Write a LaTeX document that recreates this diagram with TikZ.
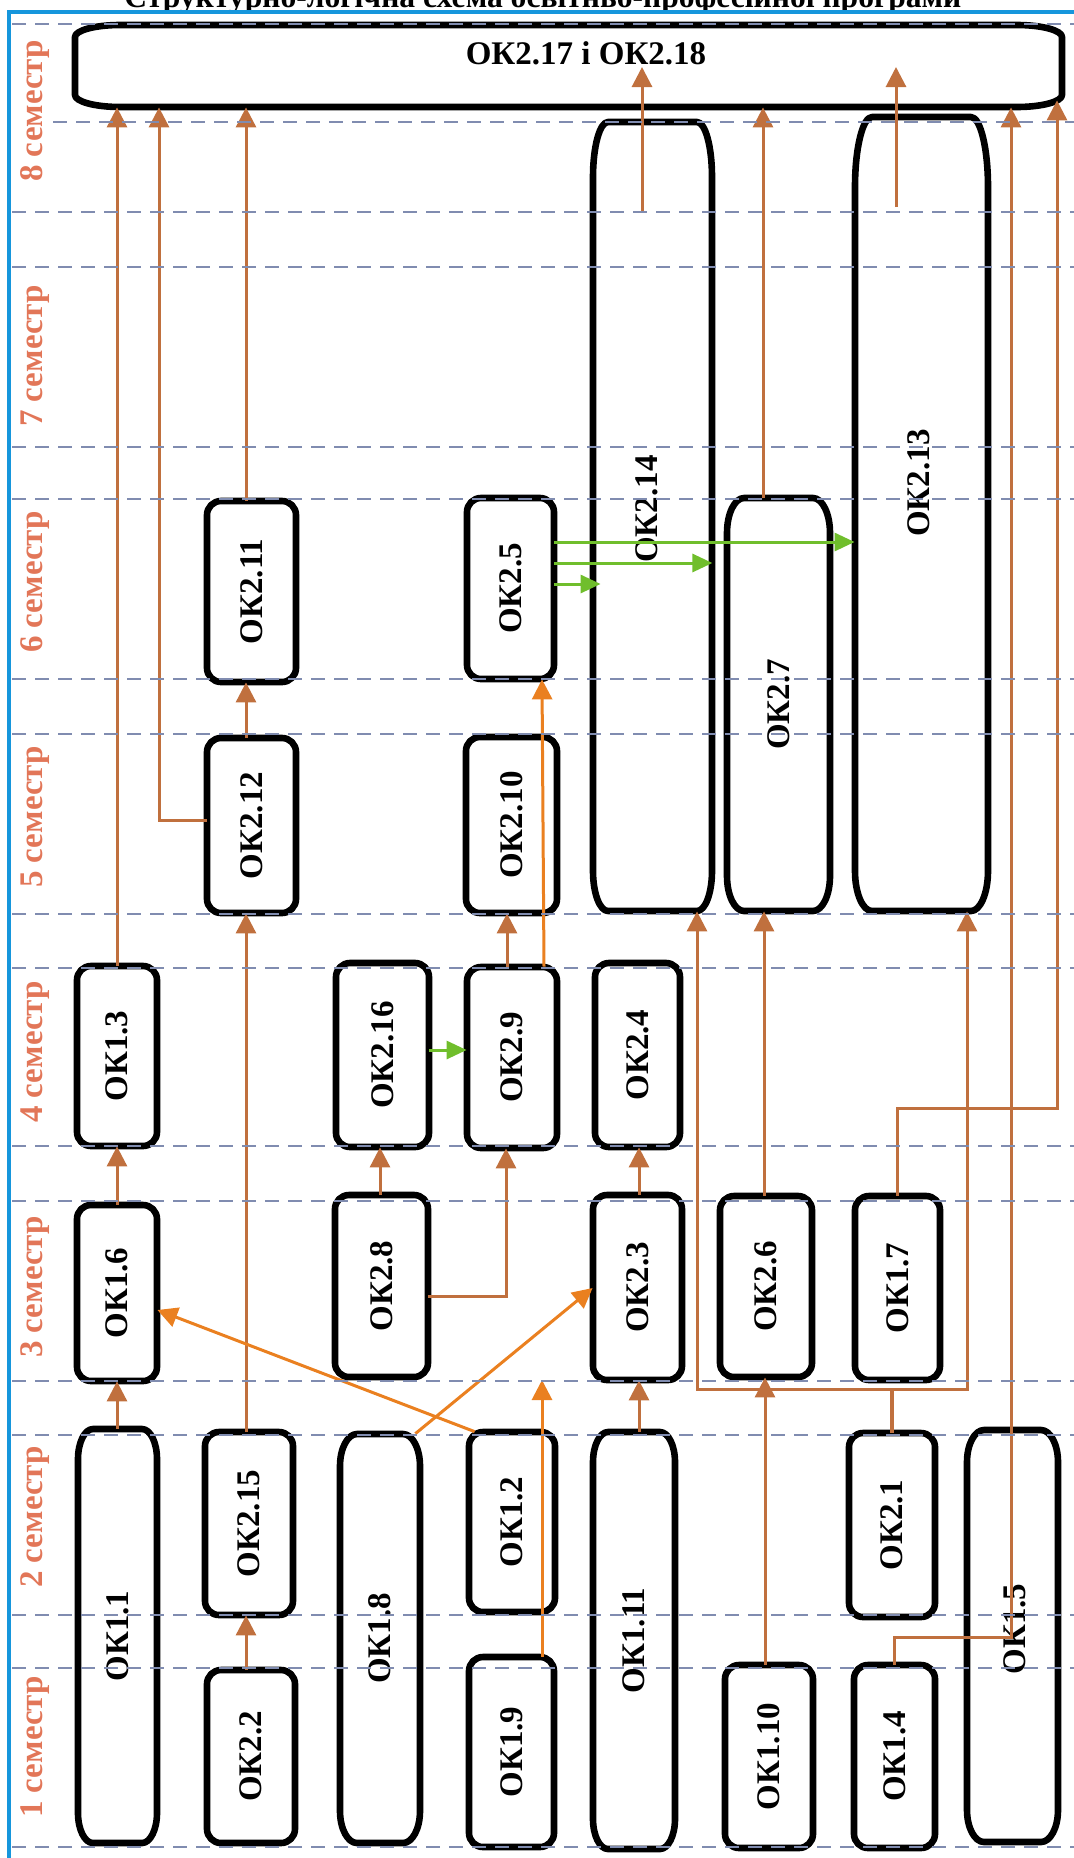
\documentclass[tikz,border=0pt]{standalone}
\usepackage{fontspec}
\usepackage{graphicx}
\setmainfont{Liberation Serif}
\usetikzlibrary{arrows.meta,fit}
\definecolor{semc}{RGB}{226,118,88}
\definecolor{brn}{RGB}{192,112,62}
\definecolor{org}{RGB}{234,128,32}
\definecolor{grn}{RGB}{112,190,44}
\definecolor{dsh}{RGB}{128,140,176}
\definecolor{blu}{RGB}{22,150,220}
\tikzset{
  boxline/.style={draw=black, line width=3.3pt, line join=round},
  lbl/.style={font=\fontsize{16.5}{18}\selectfont\bfseries, rotate=90, inner sep=0pt},
  hlbl/.style={font=\fontsize{16.5}{18}\selectfont\bfseries, inner sep=0pt},
  semlbl/.style={text=semc, font=\fontsize{16.5}{18}\selectfont\bfseries, rotate=90, inner sep=0pt},
  conn/.style={draw=brn, line width=1.5pt},
  arr/.style={conn, -{Triangle[length=10pt,width=10pt]}},
  oarr/.style={draw=org, line width=1.5pt, -{Triangle[length=10pt,width=10pt]}},
  garr/.style={draw=grn, line width=1.5pt, -{Triangle[length=10pt,width=9pt]}},
  dline/.style={draw=dsh, line width=1pt, dash pattern=on 7pt off 4.5pt},
}
% #1 name, #2 x1, #3 y1, #4 x2, #5 y2, #6 rx, #7 ry top, #8 ry bottom, #9 label
\newcommand\okbox[9]{%
 \draw[boxline] ({#2+#6},#3) -- ({#4-#6},#3)
   .. controls ({#4-0.4477*#6},#3) and (#4,{#3+0.4477*#7}) .. (#4,{#3+#7})
   -- (#4,{#5-#8})
   .. controls (#4,{#5-0.4477*#8}) and ({#4-0.4477*#6},#5) .. ({#4-#6},#5)
   -- ({#2+#6},#5)
   .. controls ({#2+0.4477*#6},#5) and (#2,{#5-0.4477*#8}) .. (#2,{#5-#8})
   -- (#2,{#3+#7})
   .. controls (#2,{#3+0.4477*#7}) and ({#2+0.4477*#6},#3) .. ({#2+#6},#3) -- cycle;
 \node[fit={(#2,#3)(#4,#5)},inner sep=0pt] (#1) {};
 \node[lbl] (#1-t) at (#1.center) {#9};
}
\begin{document}
\begin{tikzpicture}[x=0.5pt,y=-0.5pt]
\useasboundingbox (0,0) rectangle (1074,1858);

% title (partly cut off at the top)
\node[anchor=base, inner sep=0pt] (title) at (543,7)
  {\resizebox{418.5pt}{!}{\bfseries Структурно-логічна схема освітньо-професійної програми}};

% semester labels
\node[semlbl] (sem8) at (35,111) {8 семестр};
\node[semlbl] (sem7) at (35,356) {7 семестр};
\node[semlbl] (sem6) at (35,582) {6 семестр};
\node[semlbl] (sem5) at (35,817) {5 семестр};
\node[semlbl] (sem4) at (35,1052) {4 семестр};
\node[semlbl] (sem3) at (35,1287) {3 семестр};
\node[semlbl] (sem2) at (35,1517) {2 семестр};
\node[semlbl] (sem1) at (35,1747) {1 семестр};

% boxes
\okbox{ok217}{75}{25}{1062}{107}{45}{12}{12}{}
\node[hlbl] (ok217-l) at (586,53) {ОК2.17 і ОК2.18};

\okbox{ok11}{78}{1429}{157}{1843}{15}{30}{30}{ОК1.1}
\okbox{ok16}{77}{1205}{157}{1381}{14}{14}{14}{ОК1.6}
\okbox{ok13}{77}{966}{157}{1146}{14}{14}{14}{ОК1.3}

\okbox{ok22}{207}{1670}{295}{1843}{14}{14}{14}{ОК2.2}
\okbox{ok215}{205}{1432}{293}{1615}{14}{14}{14}{ОК2.15}
\okbox{ok212}{207}{738}{296}{913}{14}{14}{14}{ОК2.12}
\okbox{ok211}{207}{501}{296}{682}{14}{14}{14}{ОК2.11}

\okbox{ok18}{340}{1434}{420}{1843}{17}{32}{32}{ОК1.8}
\okbox{ok28}{335}{1195}{428}{1377}{14}{14}{14}{ОК2.8}
\okbox{ok216}{336}{963}{429}{1147}{14}{14}{14}{ОК2.16}

\okbox{ok19}{469}{1657}{554}{1847}{14}{14}{14}{ОК1.9}
\okbox{ok12}{469}{1432}{555}{1612}{14}{14}{14}{ОК1.2}
\okbox{ok29}{467}{967}{557}{1148}{14}{14}{14}{ОК2.9}
\okbox{ok210}{466}{737}{557}{913}{14}{14}{14}{ОК2.10}
\okbox{ok25}{467}{498}{554}{679}{14}{14}{14}{ОК2.5}

\okbox{ok111}{593}{1432}{675}{1849}{15}{30}{30}{ОК1.11}
\okbox{ok23}{593}{1195}{682}{1380}{14}{14}{14}{ОК2.3}
\okbox{ok24}{595}{963}{680}{1147}{14}{14}{14}{ОК2.4}
\okbox{ok214}{593}{122}{712}{911}{15}{55}{40}{}
\node[lbl] (ok214-l) at (647,509) {ОК2.14};

\okbox{ok110}{725}{1665}{813}{1848}{14}{14}{14}{ОК1.10}
\okbox{ok26}{720}{1196}{812}{1377}{14}{14}{14}{ОК2.6}
\okbox{ok27}{727}{498}{830}{911}{17}{35}{35}{ОК2.7}

\okbox{ok14}{854}{1665}{935}{1848}{14}{14}{14}{ОК1.4}
\okbox{ok21}{849}{1433}{935}{1617}{14}{14}{14}{ОК2.1}
\okbox{ok17}{855}{1196}{940}{1380}{14}{14}{14}{ОК1.7}
\okbox{ok213}{855}{117}{988}{911}{17}{70}{40}{}
\node[lbl] (ok213-l) at (919,483) {ОК2.13};

\okbox{ok15}{967}{1430}{1058}{1842}{17}{32}{32}{}
\node[lbl] (ok15-l) at (1015,1629) {ОК1.5};

% connectors (brown)
\draw[arr] (ok11.north -| 117,0) -- (ok16.south -| 117,0);
\draw[arr] (ok16.north -| 117,0) -- (ok13.south -| 117,0);
\draw[arr] (ok13.north -| 117,0) -- (ok217.south -| 117,0);
\draw[arr] (ok22.north -| 246,0) -- (ok215.south -| 246,0);
\draw[arr] (ok215.north -| 246,0) -- (ok212.south -| 246,0);
\draw[arr] (ok212.north -| 246,0) -- (ok211.south -| 246,0);
\draw[arr] (ok211.north -| 246,0) -- (ok217.south -| 246,0);
\draw[arr] ([yshift=2.75pt]ok212.west) -| (ok217.south -| 159,0);
\draw[arr] (ok28.north -| 380,0) -- (ok216.south -| 380,0);
\draw[arr] ([yshift=-5pt]ok28.east) -| (ok29.south -| 506,0);
\draw[arr] (ok29.north -| 507,0) -- (ok210.south -| 507,0);
\draw[arr] (ok23.north -| 639,0) -- (ok24.south -| 639,0);
\draw[arr] (ok111.north -| 639,0) -- (ok23.south -| 639,0);
\draw[arr] (ok110.north -| 765,0) -- (ok26.south -| 765,0);
\draw[arr] (ok26.north -| 764,0) -- (ok27.south -| 764,0);
\draw[arr] (ok27.north -| 763,0) -- (ok217.south -| 763,0);
\coordinate (j21) at (ok21.north |- 0,1389);
\draw[conn, line width=2.2pt] (ok21.north) -- (j21);
\draw[arr] (j21) -| (ok214.south -| 697,0);
\draw[arr] (j21) -| (ok213.south -| 967,0);
\draw[arr] (ok17.north) |- (1057,1108) -- ([yshift=3.5pt]ok217.south -| 1057,0);
\draw[arr] (ok14.north) |- (1011,1637) -- (ok217.south -| 1011,0);
\coordinate (s214) at (642,212);
\coordinate (e214) at (642,67);
\draw[arr] (s214) -- (e214);
\coordinate (s213) at (896,207);
\coordinate (e213) at (896,67);
\draw[arr] (s213) -- (e213);

% connectors (orange)
\draw[oarr] (ok29.north -| 544,0) -- (ok25.south -| 542,0);
\coordinate (f19) at (542,1380);
\draw[oarr] (ok19.north -| 542,0) -- (f19);
\draw[oarr] ([xshift=3pt]ok12.north west) -- (ok16.east |- 0,1310);
\draw[oarr] ([xshift=-2.5pt]ok18.north east) -- (ok23.west |- 0,1288);

% connectors (green)
\draw[garr] (ok216.east |- 0,1050) -- (ok29.west |- 0,1050);
\draw[garr] (ok25.east |- 0,542) -- (ok213.west |- 0,542);
\draw[garr] (ok25.east |- 0,563) -- (ok214.east |- 0,563);
\draw[garr] (ok25.east |- 0,584) -- ([xshift=4pt]ok214.west |- 0,584);

% dashed semester lines
\foreach \yy in {24,212,267,447,499,679,734,914,968,1146,1201,1381,1435,1615,1668,1847}
  \draw[dline] (12,\yy) -- (1074,\yy);
\draw[dline] (53,122) -- (1074,122);

% blue frame
\draw[blu, line width=2pt] (9,1858) -- (9,11.5) -- (1074,11.5);
\end{tikzpicture}
\end{document}
